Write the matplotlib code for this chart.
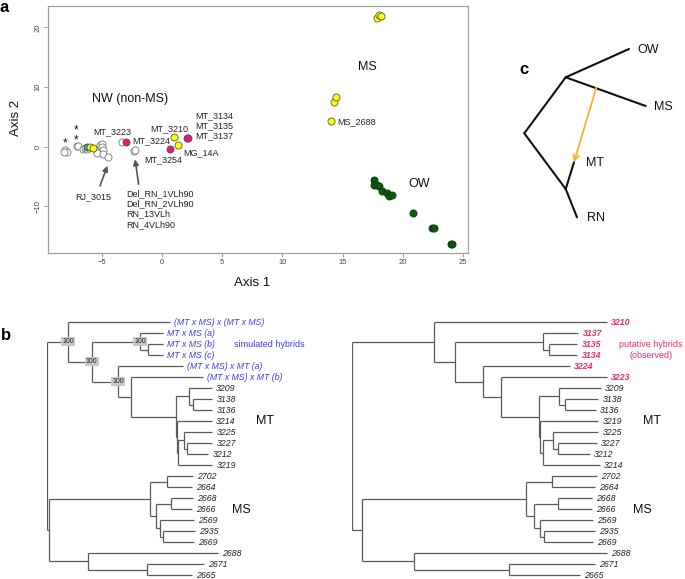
import matplotlib
matplotlib.use("Agg")
import matplotlib.pyplot as plt

plt.rcParams['font.family'] = ['Liberation Sans', 'DejaVu Sans']

W, H = 685, 579

# ---- panel a: ordination scores ----
open_x = [-8.05, -7.9, -8.1, -7.09, -6.95, -6.6, -6.4, -6.2, -5.3, -5.15, -5.0, -5.0,
          -4.87, -5.4, -4.87, -4.46, -3.3, -2.3, -2.25]
open_y = [-0.55, -0.84, -0.9, 0.12, 0.2, -0.3, -0.27, -0.3, -0.3, 0.28, 0.45, 0.0,
          -0.55, -1.1, -1.2, -1.67, 0.8, -0.7, -0.6]
cyan_x = [-6.2]
cyan_y = [0.0]
yellow_x = [-6.0, -5.7, 0.97, 1.35, 14.04, 14.26, 14.48, 17.83, 18.05, 18.16]
yellow_y = [0.0, -0.17, 1.57, 0.28, 4.25, 7.54, 8.27, 21.5, 22.05, 21.9]
pink_x = [-3.0, 0.66, 2.1, 2.15]
pink_y = [0.8, -0.33, 1.5, 1.45]
green_x = [17.58, 17.64, 17.83, 18.05, 18.25, 18.66, 18.83, 19.13, 20.85, 22.42, 22.6, 24.0, 24.1]
green_y = [-5.58, -6.42, -6.4, -6.58, -7.37, -7.8, -8.2, -8.09, -11.05, -13.67, -13.67, -16.35, -16.35]

# sample labels (text, x, y)
point_labels = [("MT_3223", -5.73, 2.46), ("MT_3224", -2.49, 0.95), ("MT_3210", -0.94, 3.08),
                ("MT_3134", 2.74, 5.14), ("MT_3135", 2.74, 3.47), ("MT_3137", 2.74, 1.79),
                ("MG_14A", 1.80, -1.0), ("MT_3254", -1.44, -2.23), ("RJ_3015", -7.2, -8.38),
                ("Del_RN_1VLh90", -2.99, -7.92), ("Del_RN_2VLh90", -2.99, -9.6),
                ("RN_13VLh", -2.99, -11.27), ("RN_4VLh90", -2.99, -13.0),
                ("MS_2688", 14.56, 4.25)]
group_labels = [("NW (non-MS)", -2.65, 8.0), ("MS", 17.1, 13.4), ("OW", 21.4, -6.3)]
star_text = [("*", -8.06, 0.6), ("*\n*", -7.14, 1.9)]

# ---- panel c: schematic tree ----
c_tips = ["OW", "MS", "MT", "RN"]
c_tip_x = [629, 645.7, 574, 577]
c_tip_y = [49, 106, 162.3, 217.3]
c_label_dx = [8, 8, 12, 10]
c_node_x = [524.3, 565.7, 565.7]   # root, upper, lower
c_node_y = [133.3, 77.3, 189]
c_arrow_from = (596.3, 87.7)

# ---- panel b: trees (node depth, children | label, bootstrap) ----
left_tree = (0, [
    (21.3, [
        (123.0, "(MT x MS) x (MT x MS)"),
        (44.7, [
            (93.0, [
                (116.0, "MT x MS (a)"),
                (100.7, [(116.0, "MT x MS (b)"), (116.0, "MT x MS (c)")]),
            ], 100),
            (71.3, [
                (135.7, "(MT x MS) x MT (a)"),
                (83.7, [
                    (156.3, "(MT x MS) x MT (b)"),
                    (128.7, [
                        (142.0, [(164.7, "3209"), (146.3, [(165.3, "3138"), (165.3, "3136")])]),
                        (129.7, [(164.7, "3214"),
                                 (130.7, [(137.3, [(165.3, "3225"),
                                                   (140.3, [(165.3, "3227"), (161.3, "3212")])]),
                                          (165.3, "3219")])]),
                    ]),
                ]),
            ], 100),
        ], 100),
    ], 100),
    (2.3, [
        (103.0, [
            (119.7, [(146.3, "2702"), (145.3, "2664")]),
            (108.7, [
                (124.3, [(145.7, "2668"), (145.3, "2666")]),
                (113.3, [(146.7, "2569"), (115.7, [(148.0, "2935"), (147.0, "2669")])]),
            ]),
        ]),
        (41.3, [(171.3, "2688"), (100.0, [(157.0, "2671"), (145.0, "2665")])]),
    ]),
])

right_tree = (0, [
    (82.6, [
        (255.0, "3210"),
        (103.3, [
            (191.6, [(226.6, "3137"), (197.6, [(225.6, "3135"), (225.6, "3134")])]),
            (131.0, [
                (218.3, "3224"),
                (149.0, [
                    (255.0, "3223"),
                    (187.6, [
                        (207.6, [(249.3, "3209"), (213.3, [(246.6, "3138"), (244.3, "3136")])]),
                        (188.3, [(246.6, "3219"),
                                 (191.6, [(201.6, [(246.6, "3225"),
                                                   (206.0, [(245.0, "3227"), (238.3, "3212")])]),
                                          (248.3, "3214")])]),
                    ]),
                ]),
            ]),
        ]),
    ]),
    (10.6, [
        (174.0, [
            (200.0, [(245.0, "2702"), (243.6, "2664")]),
            (182.6, [
                (206.0, [(240.0, "2668"), (240.0, "2666")]),
                (188.3, [(241.6, "2569"), (192.6, [(243.3, "2935"), (241.0, "2669")])]),
            ]),
        ]),
        (62.3, [(255.0, "2688"), (157.3, [(243.3, "2671"), (228.3, "2665")])]),
    ]),
])

simulated = ["(MT x MS) x (MT x MS)", "MT x MS (a)", "MT x MS (b)", "MT x MS (c)",
             "(MT x MS) x MT (a)", "(MT x MS) x MT (b)"]
observed = ["3210", "3137", "3135", "3134", "3224", "3223"]

BLUE = '#3b3bf5'
PINK = '#f0287a'
LINE = '#5a5a5a'

fig = plt.figure(figsize=(W / 100, H / 100), dpi=100)


def px_axes(left, top, right, bottom):
    return fig.add_axes([left / W, 1 - bottom / H, (right - left) / W, (bottom - top) / H])


# ================= panel a =================
ax = px_axes(48, 6, 468, 253)
ax.set_xlim(-9.47, 25.42)
ax.set_ylim(-17.8, 23.57)
pt = dict(s=26, linewidths=0.6, zorder=3)
ax.scatter(open_x, open_y, facecolor='white', edgecolor='#777777', **pt)
ax.scatter(cyan_x, cyan_y, facecolor='#18b4b4', edgecolor='#444444', **pt)
ax.scatter(yellow_x, yellow_y, facecolor='#ffff00', edgecolor='#555555', **pt)
ax.scatter(pink_x, pink_y, facecolor='#f0147f', edgecolor='#555555', **pt)
ax.scatter(green_x, green_y, facecolor='#0a5a0a', edgecolor='#0a3a0a', **pt)

for txt, x, y in point_labels:
    ax.text(x, y, txt, fontsize=6.5, ha='left', va='center', color='#222222')
for txt, x, y in group_labels:
    ax.text(x, y, txt, fontsize=9, ha='center', va='center', color='#111111')
for txt, x, y in star_text:
    ax.text(x, y, txt, fontsize=8.5, ha='center', va='center', color='#111111', linespacing=0.8)

arr = dict(arrowstyle='-|>', color='#555555', lw=1.2, mutation_scale=8, shrinkA=0, shrinkB=0)
ax.annotate('', xy=(-4.54, -3.18), xytext=(-5.15, -6.58), arrowprops=arr)
ax.annotate('', xy=(-2.24, -2.11), xytext=(-1.94, -6.3), arrowprops=arr)

ax.set_xticks([-5, 0, 5, 10, 15, 20, 25])
ax.set_yticks([-10, 0, 10, 20])
ax.tick_params(colors='#9a9a9a', labelcolor='#444444', labelsize=5.5, length=3, width=0.7, pad=1.5)
for lab in ax.get_yticklabels():
    lab.set_rotation(90)
    lab.set_va('center')
for sp in ax.spines.values():
    sp.set_color('#a0a0a0')
    sp.set_linewidth(0.9)
ax.set_xlabel('Axis 1', fontsize=9.5, color='#111111')
ax.set_ylabel('Axis 2', fontsize=9.5, color='#111111')
ax.xaxis.label.set_va('center')
ax.yaxis.label.set_va('center')
ax.xaxis.set_label_coords((251.7 - 48) / 420, -(283 - 253) / 247)
ax.yaxis.set_label_coords((16 - 48) / 420, (253 - 118) / 247)


# ================= panel b =================
def draw_tree(tax, tree, highlight, hcolor, bold):
    counter = [0]

    def walk(node, parent_depth):
        depth, content = node[0], node[1]
        if isinstance(content, str):
            y = counter[0]
            counter[0] += 1
            hl = content in highlight
            tax.annotate(content, (depth, y), xytext=(3, 0), textcoords='offset points',
                         ha='left', va='center', fontsize=6.3, style='italic',
                         fontweight='bold' if (hl and bold) else 'normal',
                         color=hcolor if hl else '#222222', annotation_clip=False)
        else:
            ys = [walk(ch, depth) for ch in content]
            tax.plot([depth, depth], [ys[0], ys[-1]], color=LINE, lw=0.9, solid_capstyle='butt')
            y = (ys[0] + ys[-1]) / 2
            if len(node) > 2:
                tax.text(depth, y, str(node[2]), fontsize=5, ha='center', va='center',
                         color='#222222', zorder=5,
                         bbox=dict(boxstyle='square,pad=0.15', fc='#c8c8c8', ec='none'))
        if depth != parent_depth:
            tax.plot([parent_depth, depth], [y, y], color=LINE, lw=0.9, solid_capstyle='butt')
        return y

    walk(tree, tree[0])


row0, row_h = 322.3, 10.99
ylim_b = ((579 - row0) / row_h, (300 - row0) / row_h)

tl = px_axes(47, 300, 347, 579)
tl.set_xlim(0, 300)
tl.set_ylim(*ylim_b)
tl.axis('off')
draw_tree(tl, left_tree, simulated, BLUE, False)
tl.text(187.3, 2, 'simulated hybrids', fontsize=6.5, color=BLUE, ha='left', va='center')
tl.text(209, 9, 'MT', fontsize=9, ha='left', va='center', color='#111111')
tl.text(185.3, 17.1, 'MS', fontsize=9, ha='left', va='center', color='#111111')

tr = px_axes(351.7, 300, 685, 579)
tr.set_xlim(0, 333.3)
tr.set_ylim(*ylim_b)
tr.axis('off')
draw_tree(tr, right_tree, observed, PINK, True)
tr.text(299.3, 2, 'putative hybrids', fontsize=6.5, color=PINK, ha='center', va='center')
tr.text(299.3, 3, '(observed)', fontsize=6.5, color=PINK, ha='center', va='center')
tr.text(291.6, 9, 'MT', fontsize=9, ha='left', va='center', color='#111111')
tr.text(281.6, 17.1, 'MS', fontsize=9, ha='left', va='center', color='#111111')

# ================= panel c + letters =================
ov = fig.add_axes([0, 0, 1, 1])
ov.set_xlim(0, W)
ov.set_ylim(H, 0)
ov.axis('off')
edges = [(c_node_x[0], c_node_y[0], c_node_x[1], c_node_y[1]),
         (c_node_x[0], c_node_y[0], c_node_x[2], c_node_y[2]),
         (c_node_x[1], c_node_y[1], c_tip_x[0], c_tip_y[0]),
         (c_node_x[1], c_node_y[1], c_tip_x[1], c_tip_y[1]),
         (c_node_x[2], c_node_y[2], c_tip_x[2], c_tip_y[2]),
         (c_node_x[2], c_node_y[2], c_tip_x[3], c_tip_y[3])]
for x0, y0, x1, y1 in edges:
    ov.plot([x0, x1], [y0, y1], color='#111111', lw=1.5, solid_capstyle='round')
ov.annotate('', xy=(c_tip_x[2], c_tip_y[2]), xytext=c_arrow_from,
            arrowprops=dict(arrowstyle='->', color='#f2b42a', lw=1.3,
                            mutation_scale=10, shrinkA=0, shrinkB=0))
for name, x, y, dx in zip(c_tips, c_tip_x, c_tip_y, c_label_dx):
    ov.text(x + dx, y + 1, name, fontsize=9, ha='left', va='center', color='#111111')

for letter, x, y in [('a', 4, 7), ('b', 6, 336), ('c', 524.5, 70)]:
    ov.text(x, y, letter, fontsize=12, fontweight='bold', ha='center', va='center')

fig.savefig('out.png', dpi=100)
